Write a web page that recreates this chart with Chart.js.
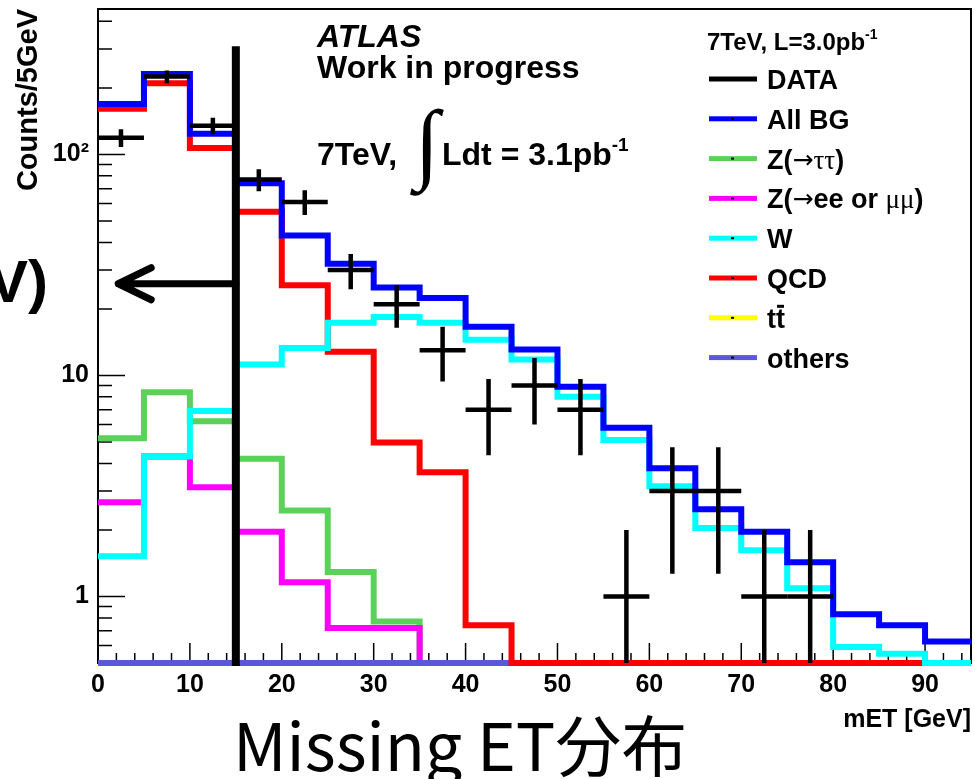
<!DOCTYPE html>
<html>
<head>
<meta charset="utf-8">
<script src="https://cdn.jsdelivr.net/npm/chart.js@4.4.1/dist/chart.umd.min.js"></script>
<style>
  body { margin: 0; background: #fff; }
</style>
</head>
<body>
<canvas id="myChart" width="975" height="779"></canvas>
<script>
// Missing ET distribution, 5 GeV bins, log y axis

const binEdges = [0, 5, 10, 15, 20, 25, 30, 35, 40, 45, 50, 55, 60, 65, 70, 75, 80, 85, 90, 95]

// backgrounds (one value per bin), 0.5 = drawn on the axis floor
const allBG   = [169, 231, 124, 74, 43, 32, 25, 22.4, 16.6, 13.1, 8.9, 5.8, 3.8, 2.48, 1.96, 1.43, 0.83, 0.74, 0.625]
const zTauTau = [5.2, 8.4, 6.2, 4.2, 2.45, 1.29, 0.77, 0.5, 0.5, 0.5, 0.5, 0.5, 0.5, 0.5, 0.5, 0.5, 0.5, 0.5, 0.5]
const zEEMuMu = [2.67, 4.3, 3.12, 1.96, 1.16, 0.72, 0.72, 0.5, 0.5, 0.5, 0.5, 0.5, 0.5, 0.5, 0.5, 0.5, 0.5, 0.5, 0.5]
const wJets   = [1.52, 4.3, 6.9, 11.2, 13.3, 17.3, 18.4, 17.3, 14.5, 11.8, 8.0, 5.1, 3.15, 2.04, 1.62, 1.09, 0.59, 0.55, 0.5]
const qcd     = [161, 210, 107, 55, 25.6, 12.8, 4.97, 3.65, 0.74, 0.5, 0.5, 0.5, 0.5, 0.5, 0.5, 0.5, 0.5, 0.5, null]
const ttbar   = [0.5, 0.5, 0.5, 0.5, 0.5, 0.5, 0.5, 0.5, 0.5, 0.5, 0.5, 0.5, 0.5, 0.5, 0.5, 0.5, 0.5, 0.5, 0.5]
const others  = [0.5, 0.5, 0.5, 0.5, 0.5, 0.5, 0.5, 0.5, 0.5, 0.5, 0.5, 0.5, 0.5, 0.5, 0.5, 0.5, 0.5, 0.5, 0.5]

// data points at bin centres
const dataX      = [2.5, 7.5, 12.5, 17.5, 22.5, 27.5, 32.5, 37.5, 42.5, 47.5, 52.5, 57.5, 62.5, 67.5, 72.5, 77.5]
const dataCounts = [119, 225, 135, 77, 61, 30, 21, 13, 7, 9, 7, 1, 3, 3, 1, 1]

const xTicks = [0, 10, 20, 30, 40, 50, 60, 70, 80, 90]
const yTicks = [1, 10, 100]
const yTickLabels = ['1', '10', '10²']

// cut at 15 GeV with arrow
const cutX = 15
const cutTop = 309
const arrowTipX = 2.2
const arrowY = 26

const colors = {
    data: '#000000', allBG: '#0000ff', zTauTau: '#5ad25a', zEEMuMu: '#ff00ff',
    w: '#00ffff', qcd: '#ff0000', ttbar: '#ffff00', others: '#5b57d9'
}

const SANS = "'Liberation Sans', Arial, sans-serif"
const SERIF = "'Liberation Serif', 'Times New Roman', serif"
const SYM = "'DejaVu Sans', sans-serif"

function histPoints(values) {
    const pts = []
    values.forEach((v, i) => {
        pts.push({ x: binEdges[i], y: v })
        pts.push({ x: binEdges[i + 1], y: v })
    })
    return pts
}

function drawRuns(ctx, x, y, runs) {
    runs.forEach(r => {
        ctx.font = r.font
        ctx.fillText(r.t, x, y + (r.dy || 0))
        x += ctx.measureText(r.t).width
    })
    return x
}

const B27 = 'bold 27px ' + SANS
const S27 = '27px ' + SERIF
const A27 = '25px ' + SYM
const legendRows = [
    { color: colors.data, runs: [{ t: 'DATA', font: B27 }] },
    { color: colors.allBG, runs: [{ t: 'All BG', font: B27 }] },
    { color: colors.zTauTau, runs: [{ t: 'Z(', font: B27 }, { t: '\u2192', font: A27, dy: -1 }, { t: '\u03c4\u03c4', font: S27 }, { t: ')', font: B27 }] },
    { color: colors.zEEMuMu, runs: [{ t: 'Z(', font: B27 }, { t: '\u2192', font: A27, dy: -1 }, { t: 'ee or ', font: B27 }, { t: '\u03bc\u03bc', font: S27 }, { t: ')', font: B27 }] },
    { color: colors.w, runs: [{ t: 'W', font: B27 }] },
    { color: colors.qcd, runs: [{ t: 'QCD', font: B27 }] },
    { color: colors.ttbar, runs: [{ t: 'tt', font: B27 }], bar: true },
    { color: colors.others, runs: [{ t: 'others', font: B27 }] }
]

const atlasPlugin = {
    id: 'atlas',
    beforeDatasetsDraw(chart) {
        const ctx = chart.ctx
        const a = chart.chartArea
        const xs = chart.scales.x
        const ys = chart.scales.y
        ctx.save()
        ctx.strokeStyle = '#000'

        // frame
        ctx.lineWidth = 2
        ctx.strokeRect(a.left, a.top, a.right - a.left, a.bottom - a.top)

        // inner ticks
        ctx.lineWidth = 1.5
        ctx.beginPath()
        for (let v = 0; v <= 95; v += 2) {
            const px = xs.getPixelForValue(v)
            const len = v % 10 === 0 ? 20 : 10
            ctx.moveTo(px, a.bottom)
            ctx.lineTo(px, a.bottom - len)
        }
        ;[0.1, 1, 10, 100].forEach(dec => {
            for (let k = 1; k <= 9; k++) {
                const v = dec * k
                if (v < 0.5 || v > 455) continue
                const py = ys.getPixelForValue(v)
                ctx.moveTo(a.left, py)
                ctx.lineTo(a.left + (k === 1 ? 27 : 14), py)
            }
        })
        ctx.stroke()
        ctx.restore()
    },
    afterDraw(chart) {
        const ctx = chart.ctx
        const a = chart.chartArea
        const xs = chart.scales.x
        const ys = chart.scales.y
        ctx.save()

        // data crosses with sqrt(N) error bars
        ctx.save()
        ctx.beginPath()
        ctx.rect(a.left, a.top, a.right - a.left, a.bottom - a.top)
        ctx.clip()
        ctx.strokeStyle = '#000'
        ctx.lineWidth = 4.5
        ctx.lineCap = 'butt'
        dataX.forEach((x, i) => {
            const n = dataCounts[i]
            const px = xs.getPixelForValue(x)
            const py = ys.getPixelForValue(n)
            const lo = n - Math.sqrt(n) > 0 ? ys.getPixelForValue(n - Math.sqrt(n)) : a.bottom + 5
            ctx.beginPath()
            ctx.moveTo(xs.getPixelForValue(x - 2.5), py)
            ctx.lineTo(xs.getPixelForValue(x + 2.5), py)
            ctx.moveTo(px, ys.getPixelForValue(n + Math.sqrt(n)))
            ctx.lineTo(px, lo)
            ctx.stroke()
        })
        ctx.restore()

        // cut line and arrow
        const cx = xs.getPixelForValue(cutX)
        ctx.strokeStyle = '#000'
        ctx.lineWidth = 8
        ctx.beginPath()
        ctx.moveTo(cx, ys.getPixelForValue(cutTop))
        ctx.lineTo(cx, a.bottom + 3)
        ctx.stroke()
        const ay = ys.getPixelForValue(arrowY)
        const tip = xs.getPixelForValue(arrowTipX)
        ctx.lineWidth = 7
        ctx.lineCap = 'round'
        ctx.lineJoin = 'round'
        ctx.beginPath()
        ctx.moveTo(cx, ay)
        ctx.lineTo(tip, ay)
        ctx.moveTo(tip + 33, ay - 16)
        ctx.lineTo(tip, ay)
        ctx.lineTo(tip + 33, ay + 16)
        ctx.stroke()
        ctx.lineCap = 'butt'

        // text in the frame
        ctx.fillStyle = '#000'
        ctx.textBaseline = 'alphabetic'
        ctx.textAlign = 'left'
        ctx.font = 'italic bold 32px ' + SANS
        ctx.fillText('ATLAS', 317, 47)
        ctx.font = 'bold 32px ' + SANS
        ctx.fillText('Work in progress', 317, 78)
        let x = drawRuns(ctx, 317, 165, [{ t: '7TeV,', font: 'bold 32px ' + SANS }])
        ctx.font = '80px ' + SERIF
        let m = ctx.measureText('\u222b')
        const ih = m.actualBoundingBoxAscent + m.actualBoundingBoxDescent
        const isz = 80 * 89 / ih
        ctx.font = isz + 'px ' + SERIF
        m = ctx.measureText('\u222b')
        ctx.fillText('\u222b', 422 - (m.actualBoundingBoxRight - m.actualBoundingBoxLeft) / 2 + m.actualBoundingBoxLeft, 108 + m.actualBoundingBoxAscent)
        x = drawRuns(ctx, 442, 165, [{ t: 'Ldt = 3.1pb', font: 'bold 32px ' + SANS }])
        drawRuns(ctx, x, 165, [{ t: '-1', font: 'bold 19px ' + SANS, dy: -14 }])

        // legend
        x = drawRuns(ctx, 707, 50, [{ t: '7TeV, L=3.0pb', font: 'bold 24px ' + SANS }])
        drawRuns(ctx, x, 50, [{ t: '-1', font: 'bold 14px ' + SANS, dy: -11 }])
        legendRows.forEach((row, i) => {
            const cy = 79 + i * 39.8
            ctx.fillStyle = row.color
            ctx.fillRect(709, cy - 2.5, 48, 5)
            ctx.fillStyle = '#000'
            if (i > 0) ctx.fillRect(731, cy - 1, 3, 2)
            const end = drawRuns(ctx, 767, cy + 10, row.runs)
            if (row.bar) {
                ctx.font = B27
                const w = ctx.measureText('t').width
                ctx.fillRect(end - w + 1, cy - 13, w - 2, 3)
            }
        })

        // slide text outside the plot
        ctx.font = 'bold 60px ' + SANS
        ctx.textAlign = 'right'
        ctx.fillText('V)', 48, 302)
        ctx.textAlign = 'left'
        ctx.font = "66px 'Noto Sans CJK JP', sans-serif"
        ctx.fillText('Missing ET\u5206\u5e03', 233, 771)
        ctx.restore()
    }
}

function makeDataset(label, values, color) {
    return {
        label: label,
        data: histPoints(values),
        borderColor: color,
        backgroundColor: color,
        borderWidth: 6,
        pointRadius: 0,
        fill: false,
        tension: 0,
        clip: false
    }
}

function createChart() {
    const tickFont = { family: SANS, size: 25, weight: 'bold' }
    const ctx = document.getElementById('myChart')
    new Chart(ctx, {
        type: 'line',
        data: {
            // first dataset is drawn on top
            datasets: [
                makeDataset('All BG', allBG, colors.allBG),
                makeDataset('W', wJets, colors.w),
                makeDataset('QCD', qcd, colors.qcd),
                makeDataset('others', others, colors.others),
                makeDataset('ttbar', ttbar, colors.ttbar),
                makeDataset('Z(ee or mumu)', zEEMuMu, colors.zEEMuMu),
                makeDataset('Z(tautau)', zTauTau, colors.zTauTau)
            ]
        },
        options: {
            responsive: false,
            animation: false,
            events: [],
            layout: { padding: { top: 9, right: 4, left: 0, bottom: 0 } },
            elements: { line: { borderJoinStyle: 'miter', borderCapStyle: 'butt' } },
            scales: {
                x: {
                    type: 'linear',
                    min: 0,
                    max: 95,
                    afterFit: s => { s.height = 116; s.paddingLeft = 0; s.paddingRight = 0 },
                    afterBuildTicks: s => { s.ticks = xTicks.map(v => ({ value: v })) },
                    ticks: { font: tickFont, color: '#000', padding: 7, maxRotation: 0, autoSkip: false, callback: v => String(v) },
                    grid: { display: false, drawTicks: false },
                    border: { display: false },
                    title: {
                        display: true, text: 'mET [GeV]', align: 'end', color: '#000',
                        font: { family: SANS, size: 25, weight: 'bold' }, padding: { top: 0, bottom: 44 }
                    }
                },
                y: {
                    type: 'logarithmic',
                    min: 0.5,
                    max: 455,
                    afterFit: s => { s.width = 98; s.paddingTop = 0; s.paddingBottom = 0 },
                    afterBuildTicks: s => { s.ticks = yTicks.map(v => ({ value: v })) },
                    ticks: { font: tickFont, color: '#000', padding: 9, autoSkip: false, callback: v => yTickLabels[yTicks.indexOf(v)] },
                    grid: { display: false, drawTicks: false },
                    border: { display: false },
                    title: {
                        display: true, text: 'Counts/5GeV', align: 'end', color: '#000',
                        font: { family: SANS, size: 29, weight: 'bold' }, padding: { top: 12, bottom: 0 }
                    }
                }
            },
            plugins: {
                legend: { display: false },
                tooltip: { enabled: false }
            }
        },
        plugins: [atlasPlugin]
    })
}

createChart()
</script>
</body>
</html>
